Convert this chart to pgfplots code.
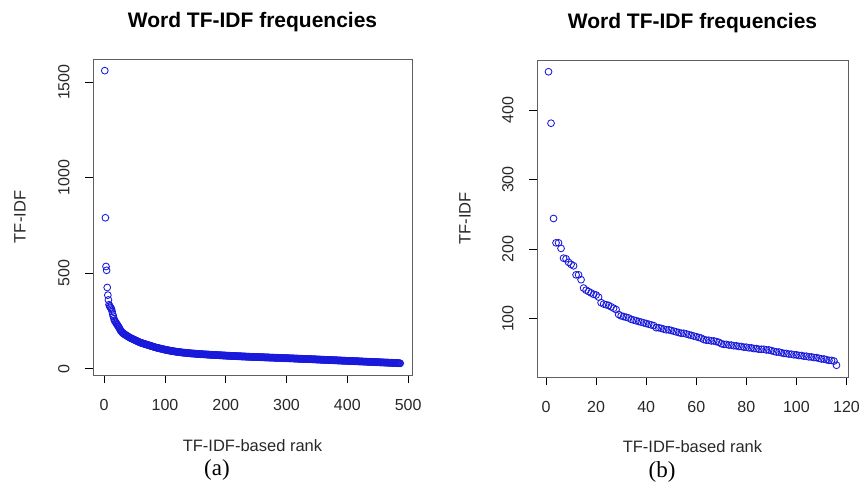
\documentclass[border=0pt]{standalone}
\usepackage{fontspec}
\setmainfont{Liberation Serif}
\setsansfont{Liberation Sans}
\usepackage{pgfplots}
\usepackage{pgfplotstable}
\pgfplotsset{compat=1.18}

\definecolor{rblue}{RGB}{25,25,220}
\definecolor{rbox}{RGB}{95,95,95}
\definecolor{rtext}{RGB}{40,40,40}

% TF-IDF values in rank order (left: all 487 words)
\pgfplotstableread[row sep=\\]{
y\\
1560\\790\\535\\515\\425\\385\\360\\335\\328\\322\\
318\\312\\300\\285\\275\\262\\252\\248\\242\\238\\
232\\228\\222\\218\\212\\206\\200\\196\\192\\189\\
186\\183\\181\\179\\177\\175\\173\\171\\169\\167\\
165\\163\\161\\160\\158\\157\\155\\154\\152\\151\\
149\\148\\146\\145\\143\\142\\140\\139\\137\\136\\
135\\134\\133\\132\\131\\130\\129\\128\\127\\126\\
125\\124\\123\\122\\121\\120\\119\\118\\117\\116\\
115\\114\\113\\112\\111\\110\\110\\109\\108\\107\\
106\\106\\105\\104\\103\\103\\102\\101\\100\\100\\
99\\98\\98\\97\\96\\96\\95\\95\\94\\93\\
93\\92\\92\\91\\91\\90\\90\\89\\89\\88\\
88\\87\\87\\87\\86\\86\\85\\85\\85\\84\\
84\\84\\83\\83\\83\\82\\82\\82\\81\\81\\
81\\80\\80\\80\\80\\79\\79\\79\\79\\78\\
78\\78\\78\\77\\77\\77\\77\\76\\76\\76\\
76\\76\\75\\75\\75\\75\\75\\74\\74\\74\\
74\\74\\73\\73\\73\\73\\73\\72\\72\\72\\
72\\72\\72\\71\\71\\71\\71\\71\\70\\70\\
70\\70\\70\\70\\69\\69\\69\\69\\69\\69\\
68\\68\\68\\68\\68\\68\\67\\67\\67\\67\\
67\\67\\66\\66\\66\\66\\66\\66\\65\\65\\
65\\65\\65\\65\\65\\64\\64\\64\\64\\64\\
64\\64\\63\\63\\63\\63\\63\\63\\63\\62\\
62\\62\\62\\62\\62\\62\\62\\61\\61\\61\\
61\\61\\61\\61\\61\\60\\60\\60\\60\\60\\
60\\60\\60\\59\\59\\59\\59\\59\\59\\59\\
59\\58\\58\\58\\58\\58\\58\\58\\58\\57\\
57\\57\\57\\57\\57\\57\\57\\56\\56\\56\\
56\\56\\56\\56\\56\\55\\55\\55\\55\\55\\
55\\55\\55\\54\\54\\54\\54\\54\\54\\54\\
54\\53\\53\\53\\53\\53\\53\\53\\52\\52\\
52\\52\\52\\52\\52\\52\\51\\51\\51\\51\\
51\\51\\51\\51\\50\\50\\50\\50\\50\\50\\
50\\49\\49\\49\\49\\49\\49\\49\\48\\48\\
48\\48\\48\\48\\48\\47\\47\\47\\47\\47\\
47\\47\\46\\46\\46\\46\\46\\46\\46\\45\\
45\\45\\45\\45\\45\\45\\44\\44\\44\\44\\
44\\44\\44\\43\\43\\43\\43\\43\\43\\43\\
42\\42\\42\\42\\42\\42\\42\\41\\41\\41\\
41\\41\\41\\41\\40\\40\\40\\40\\40\\40\\
40\\39\\39\\39\\39\\39\\39\\39\\38\\38\\
38\\38\\38\\38\\38\\37\\37\\37\\37\\37\\
37\\37\\36\\36\\36\\36\\36\\36\\36\\35\\
35\\35\\35\\35\\35\\35\\34\\34\\34\\34\\
34\\34\\34\\33\\33\\33\\33\\33\\33\\33\\
32\\32\\32\\32\\32\\32\\32\\31\\31\\31\\
31\\31\\31\\31\\30\\30\\30\\30\\30\\30\\
30\\29\\29\\29\\29\\29\\28\\
}\dataA

% right: 116 words
\pgfplotstableread[row sep=\\]{
y\\
455\\381\\244\\209\\209\\201\\187\\186\\181\\178\\
176\\163\\163\\156\\144\\141\\139\\137\\135\\134\\
131\\123\\121\\120\\119\\117\\115\\113\\106\\104\\
103\\102\\101\\99\\98\\97\\96\\95\\94\\93\\
92\\91\\90\\87\\87\\86\\85\\84\\84\\83\\
82\\81\\80\\79\\79\\78\\77\\76\\75\\74\\
73\\72\\70\\69\\69\\68\\68\\67\\66\\64\\
63\\63\\62\\62\\61\\61\\60\\60\\59\\59\\
58\\58\\57\\57\\56\\56\\56\\55\\55\\54\\
53\\52\\52\\51\\50\\50\\49\\49\\48\\48\\
47\\47\\46\\46\\45\\45\\44\\44\\43\\42\\
42\\41\\40\\40\\39\\33\\
}\dataB

\pgfplotsset{rplot/.style={
  scale only axis, anchor=south west,
  axis line style={rbox, line width=0.9pt},
  tick style={black, line width=0.9pt},
  tick align=outside, major tick length=8pt,
  xtick pos=bottom, ytick pos=left,
  xticklabel shift=13pt, yticklabel shift=12pt,
  /pgf/number format/assume math mode=true,
  /pgf/number format/1000 sep={},
  ticklabel style={font=\fontsize{16}{18}\selectfont\sffamily, text=rtext},
  yticklabel style={rotate=90, anchor=south},
  label style={font=\fontsize{16.5}{19}\selectfont\sffamily, text=rtext},
  title style={font=\fontsize{21}{24}\selectfont\sffamily\bfseries,
               at={(axis description cs:0.5,1.098)}, anchor=center},
  xlabel={TF-IDF-based rank}, ylabel={TF-IDF},
  title={Word TF-IDF frequencies},
}}
\pgfplotsset{rmarks/.style={only marks, mark=o, mark size=3.4pt,
    draw=rblue, mark options={draw=rblue, fill=none, line width=0.85pt}}}

\begin{document}
\begin{tikzpicture}
  \useasboundingbox (0pt,0pt) rectangle (860pt,488pt);
  \begin{axis}[rplot, at={(93pt,113pt)}, width=319pt, height=316pt,
      xmin=-18.4, xmax=506.4, ymin=-33, ymax=1621,
      xtick={0,100,...,500}, ytick={0,500,1000,1500},
      x label style={at={(axis description cs:0.5,-0.224)}, anchor=center},
      y label style={at={(axis description cs:-0.229,0.5)}, anchor=center}]
    \addplot[rmarks] table[x expr=\coordindex+1, y=y] {\dataA};
  \end{axis}
  \begin{axis}[rplot, at={(537pt,111pt)}, width=311pt, height=317pt,
      xmin=-3.6, xmax=120.6, ymin=16.1, ymax=471.9,
      xtick={0,20,...,120}, ytick={100,200,300,400},
      x label style={at={(axis description cs:0.5,-0.22)}, anchor=center},
      y label style={at={(axis description cs:-0.2315,0.5)}, anchor=center}]
    \addplot[rmarks] table[x expr=\coordindex+1, y=y] {\dataB};
  \end{axis}
  \node[font=\fontsize{23}{26}\selectfont] at (217pt,18pt) {(a)};
  \node[font=\fontsize{23}{26}\selectfont] at (662pt,16pt) {(b)};
\end{tikzpicture}
\end{document}
